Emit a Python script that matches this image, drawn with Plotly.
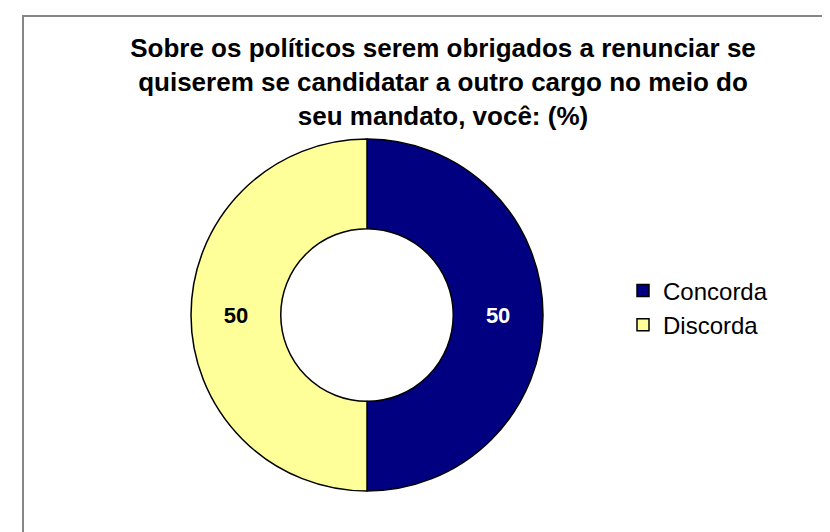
import plotly.graph_objects as go

W, H = 830, 532

labels = ["Concorda", "Discorda"]
values = [50, 50]
colors = ["#000080", "#FFFF99"]
label_colors = ["white", "black"]

title = ("Sobre os políticos serem obrigados a renunciar se<br>"
         "quiserem se candidatar a outro cargo no meio do<br>"
         "seu mandato, você: (%)")

fig = go.Figure()
fig.add_trace(go.Pie(
    labels=labels, values=values,
    hole=0.49, sort=False, direction="clockwise", rotation=0,
    marker=dict(colors=colors, line=dict(color="black", width=1.5)),
    texttemplate="<b>%{value}</b>", textposition="inside",
    insidetextorientation="horizontal",
    textfont=dict(family="Liberation Sans", size=22, color=label_colors),
    domain=dict(x=[183 / W, 535 / W], y=[1 - 483 / H, 1 - 131 / H]),
))

# chart frame (cut at right and bottom in the original)
fig.add_shape(type="rect", xref="paper", yref="paper",
              x0=15 / W, x1=1.05, y0=-0.05, y1=1 - 8 / H,
              line=dict(color="#868686", width=2))

fig.update_layout(
    width=W, height=H,
    margin=dict(l=0, r=0, t=0, b=0),
    paper_bgcolor="white", plot_bgcolor="white",
    title=dict(text="<b>" + title + "</b>", x=435 / W, xanchor="center",
               y=1 - 49 / H, yanchor="top",
               font=dict(family="Liberation Sans", size=26, color="black")),
    showlegend=True,
    legend=dict(x=615 / W, xanchor="left", y=1 - 300 / H, yanchor="middle",
                font=dict(family="Liberation Sans", size=24, color="black"),
                itemclick=False, bgcolor="rgba(0,0,0,0)"),
)

fig.write_html("out.html")
